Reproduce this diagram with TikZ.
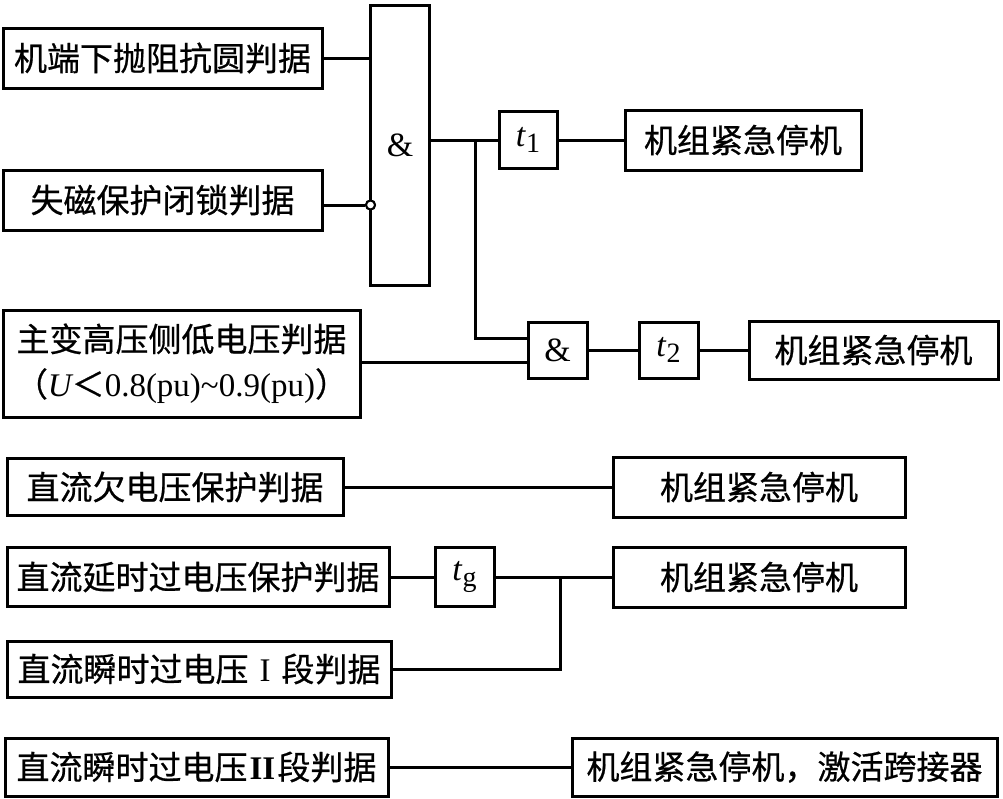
\documentclass[tikz,border=0pt]{standalone}
\usepackage{fontspec}
\setmainfont{Liberation Serif}
\newfontfamily\cjk[FakeBold=0.6]{Noto Sans CJK SC}
\begin{document}
\begin{tikzpicture}[x=1pt,y=-1pt]
\tikzset{
  box/.style={draw, line width=3pt, inner sep=0pt, align=center,
    font=\fontsize{33}{45}\selectfont\cjk},
  lat/.style={box, font=\fontsize{34}{40}\selectfont\rmfamily},
  wire/.style={line width=3pt},
  inv/.style={circle, draw, fill=white, line width=2pt, minimum size=9pt, inner sep=0pt}
}
\newcommand{\tsub}[1]{\textit{t}\raisebox{-0.4ex}{\fontsize{28}{28}\selectfont #1}}
\useasboundingbox (0,0) rectangle (1003,798);

% upper logic
\node[box, minimum width=319pt, minimum height=60pt] (A) at (162.5,58) {机端下抛阻抗圆判据};
\node[box, minimum width=319pt, minimum height=60pt] (B) at (162.5,200) {失磁保护闭锁判据};
\node[lat, minimum width=59pt, minimum height=280pt] (and1) at (400,145) {\&};
\node[inv] (n1) at (370.5,205) {};
\node[lat, minimum width=58pt, minimum height=57pt] (t1) at (528,140) {\tsub{1}};
\node[box, minimum width=236pt, minimum height=60pt] (E1) at (743,140) {机组紧急停机};

\node[box, minimum width=357pt, minimum height=107pt] (M) at (181.5,363.5)
  {主变高压侧低电压判据\\{\cjk （}{\rmfamily\itshape U}{\cjk ＜}{\rmfamily 0.8(pu)\char`\~0.9(pu)}{\cjk ）}};
\node[lat, minimum width=59pt, minimum height=56pt] (and2) at (557.5,350) {\&};
\node[lat, minimum width=59pt, minimum height=56pt] (t2) at (668.5,350) {\tsub{2}};
\node[box, minimum width=249pt, minimum height=58pt] (E2) at (873.5,350) {机组紧急停机};

\coordinate (j1) at (475,140);
\coordinate (i2a) at (475,338);
\coordinate (i2b) at (475,362);

\draw[wire] (A.east) -- (A.east -| and1.west);
\draw[wire] (B.east |- n1) -- (n1.west);
\draw[wire] (and1.east |- t1) -- (t1.west);
\draw[wire] (t1.east) -- (E1.west);
\draw[wire] (j1) -- (i2a) -- (i2a -| and2.west);
\draw[wire] (M.east |- i2b) -- (i2b -| and2.west);
\draw[wire] (and2.east) -- (t2.west);
\draw[wire] (t2.east) -- (E2.west);
\node[inv] at (n1) {};

% DC criteria
\node[box, minimum width=336pt, minimum height=57pt] (D1) at (175,487) {直流欠电压保护判据};
\node[box, minimum width=292pt, minimum height=60pt] (E3) at (759,487) {机组紧急停机};
\draw[wire] (D1.east) -- (E3.west);

\node[box, minimum width=382pt, minimum height=59pt] (D2) at (198,577) {直流延时过电压保护判据};
\node[lat, minimum width=59pt, minimum height=59pt] (tg) at (464.5,577) {\tsub{g}};
\node[box, minimum width=292pt, minimum height=60pt] (E4) at (759,577) {机组紧急停机};
\node[box, minimum width=384pt, minimum height=56pt] (D3) at (199,669) {直流瞬时过电压\makebox[33pt]{\rmfamily I}段判据};
\coordinate (j2) at (560,577);
\draw[wire] (D2.east) -- (tg.west);
\draw[wire] (tg.east) -- (E4.west);
\draw[wire] (D3.east) -| (j2);

\node[box, minimum width=383pt, minimum height=58pt] (D4) at (196.5,767) {直流瞬时过电压\makebox[30pt]{\rmfamily\bfseries II}段判据};
\node[box, minimum width=425pt, minimum height=58pt] (E5) at (784.5,767) {机组紧急停机，激活跨接器};
\draw[wire] (D4.east) -- (E5.west);
\end{tikzpicture}
\end{document}
